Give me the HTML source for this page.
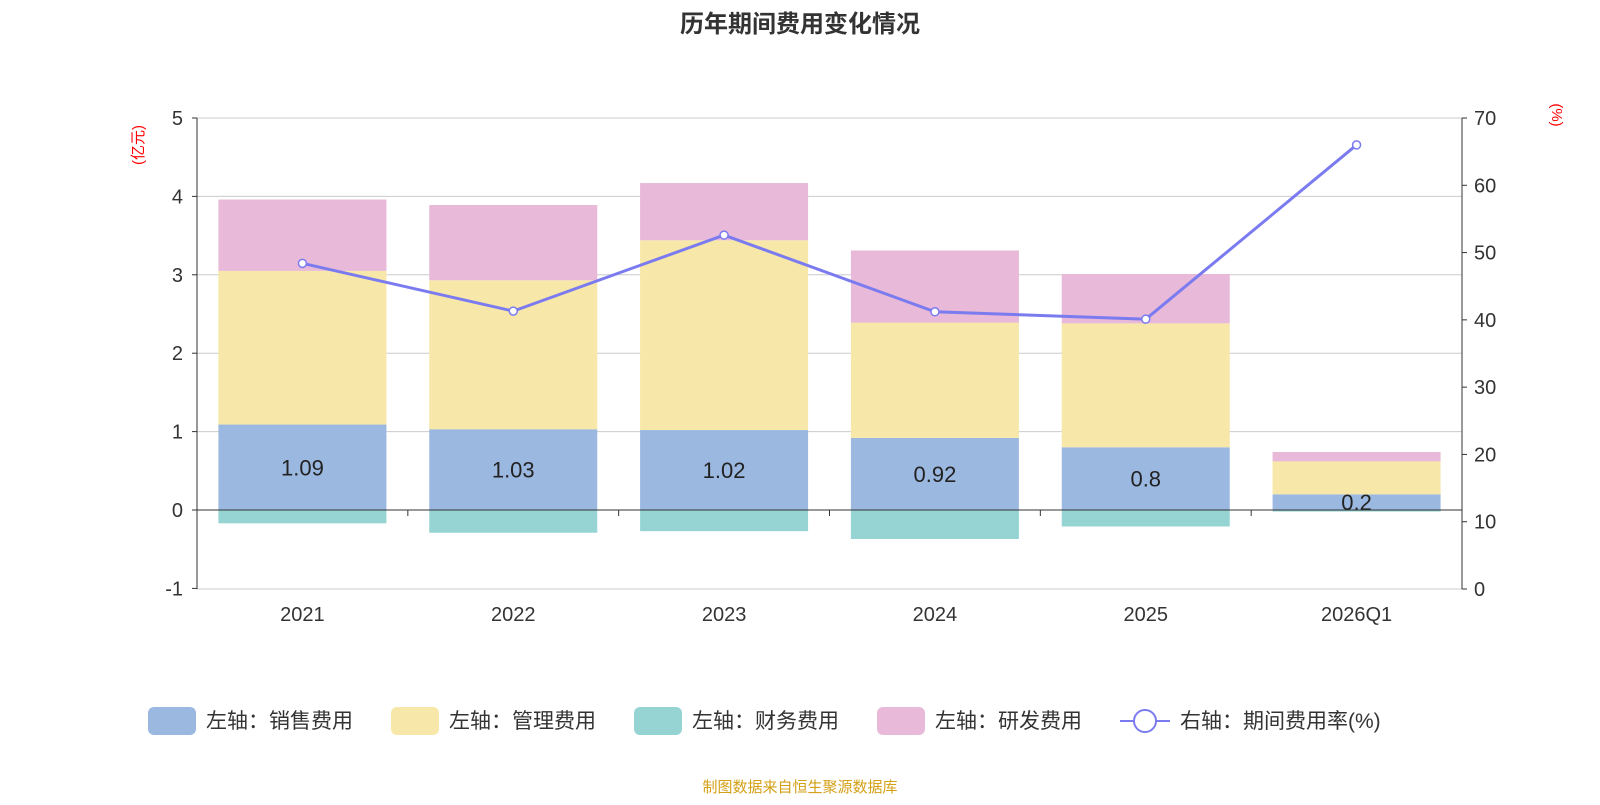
<!DOCTYPE html>
<html><head><meta charset="utf-8"><style>
body{margin:0;background:#fff;font-family:"Liberation Sans","Noto Sans CJK SC",sans-serif}
svg text{font-family:"Liberation Sans","Noto Sans CJK SC",sans-serif}
</style></head><body>
<svg id="c" width="1600" height="800">
<text x="800" y="32" text-anchor="middle" font-size="24" font-weight="bold" fill="#333">历年期间费用变化情况</text>
<text transform="translate(143,145) rotate(-90)" text-anchor="middle" font-size="15" fill="#f00">(亿元)</text>
<text transform="translate(1552,115) rotate(90)" text-anchor="middle" font-size="15" fill="#f00">(%)</text>
<g id="grid"></g><g id="bars"></g><g id="axes"></g><g id="line"></g><g id="legend"></g>
<text x="800" y="792" text-anchor="middle" font-size="15" fill="#d4a017">制图数据来自恒生聚源数据库</text>
</svg>
<script>
const categories=["2021","2022","2023","2024","2025","2026Q1"];
const sales=[1.09,1.03,1.02,0.92,0.8,0.2];
const mgmt=[1.96,1.90,2.42,1.47,1.58,0.42];
const finance=[-0.17,-0.29,-0.27,-0.37,-0.21,-0.02];
const rd=[0.91,0.96,0.73,0.92,0.63,0.12];
const rate=[48.4,41.3,52.6,41.2,40.1,66.0];
const leftTicks=[-1,0,1,2,3,4,5];
const rightTicks=[0,10,20,30,40,50,60,70];
const NS="http://www.w3.org/2000/svg";
const L=197,R=1462,T=118,B=589;
const yL=v=>510-v*78.4;
const yR=v=>B-v*(B-T)/70;
const bw=(R-L)/categories.length;
const xc=i=>L+bw*(i+0.5);
function mk(p,tag,a){const e=document.createElementNS(NS,tag);for(const k in a)e.setAttribute(k,a[k]);document.getElementById(p).appendChild(e);return e;}
leftTicks.forEach((v)=>{
 if(v!==0&&v!==-1){const g=mk("grid","line",{x1:L,x2:R,y1:yL(v),y2:yL(v),stroke:"#ccc","stroke-width":1});
 
 }
 const t=mk("axes","text",{x:L-14,y:yL(v)+7,"text-anchor":"end","font-size":20,fill:"#333"});t.textContent=v;
 
 
 mk("axes","line",{x1:L-5,x2:L,y1:yL(v),y2:yL(v),stroke:"#333"});
});
rightTicks.forEach(v=>{
 const t=mk("axes","text",{x:R+12,y:yR(v)+7,"font-size":20,fill:"#333"});t.textContent=v;
 
 
 mk("axes","line",{x1:R,x2:R+5,y1:yR(v),y2:yR(v),stroke:"#333"});
});
mk("axes","line",{x1:L,x2:R,y1:B,y2:B,stroke:"#ccc"});
mk("axes","line",{x1:L,x2:L,y1:T,y2:B,stroke:"#333"});
mk("axes","line",{x1:R,x2:R,y1:T,y2:B,stroke:"#333"});
mk("axes","line",{x1:L,x2:R,y1:yL(0),y2:yL(0),stroke:"#333"});
categories.forEach((c,i)=>{
 mk("axes","line",{x1:L+bw*i,x2:L+bw*i,y1:yL(0),y2:yL(0)+6,stroke:"#333"});
 const t=mk("axes","text",{x:xc(i),y:621,"text-anchor":"middle","font-size":20,fill:"#333"});t.textContent=c;
 
 
 const x=xc(i)-84,w=168;
 const s=mk("bars","rect",{x,y:yL(sales[i]),width:w,height:yL(0)-yL(sales[i]),fill:"#9bb8e0"});
 
 
 const m=mk("bars","rect",{x,y:yL(sales[i]+mgmt[i]),width:w,height:yL(sales[i])-yL(sales[i]+mgmt[i]),fill:"#f7e7a8"});
 
 
 const top=sales[i]+mgmt[i]+rd[i];
 const r=mk("bars","rect",{x,y:yL(top),width:w,height:yL(sales[i]+mgmt[i])-yL(top),fill:"#e8b9d8"});
 
 
 const f=mk("bars","rect",{x,y:yL(0),width:w,height:yL(finance[i])-yL(0),fill:"#96d4d4"});
 
 
 const lb=mk("bars","text",{x:xc(i),y:(yL(0)+yL(sales[i]))/2+8,"text-anchor":"middle","font-size":22,fill:"#222"});lb.textContent=sales[i];
 
 
});
const pl=mk("line","polyline",{points:rate.map((v,i)=>xc(i)+","+yR(v)).join(" "),fill:"none",stroke:"#7b7bf0","stroke-width":3});


rate.forEach((v,i)=>{const p=mk("line","circle",{cx:xc(i),cy:yR(v),r:4,fill:"#fff",stroke:"#7b7bf0","stroke-width":1.5});
 
 });
const leg=[["左轴：销售费用","#9bb8e0",148],["左轴：管理费用","#f7e7a8",391],["左轴：财务费用","#96d4d4",634],["左轴：研发费用","#e8b9d8",877]];
leg.forEach(([n,c,x])=>{
 const r=mk("legend","rect",{x,y:707,width:48,height:28,rx:6,fill:c});
 
 
 const t=mk("legend","text",{x:x+58,y:728,"font-size":21,fill:"#333"});t.textContent=n;
 
 
});
mk("legend","line",{x1:1120,x2:1170,y1:721,y2:721,stroke:"#7b7bf0","stroke-width":2});
mk("legend","circle",{cx:1145,cy:721,r:11,fill:"#fff",stroke:"#7b7bf0","stroke-width":2});
const lt=mk("legend","text",{x:1180,y:728,"font-size":21,fill:"#333"});lt.textContent="右轴：期间费用率(%)";


</script>
</body></html>
